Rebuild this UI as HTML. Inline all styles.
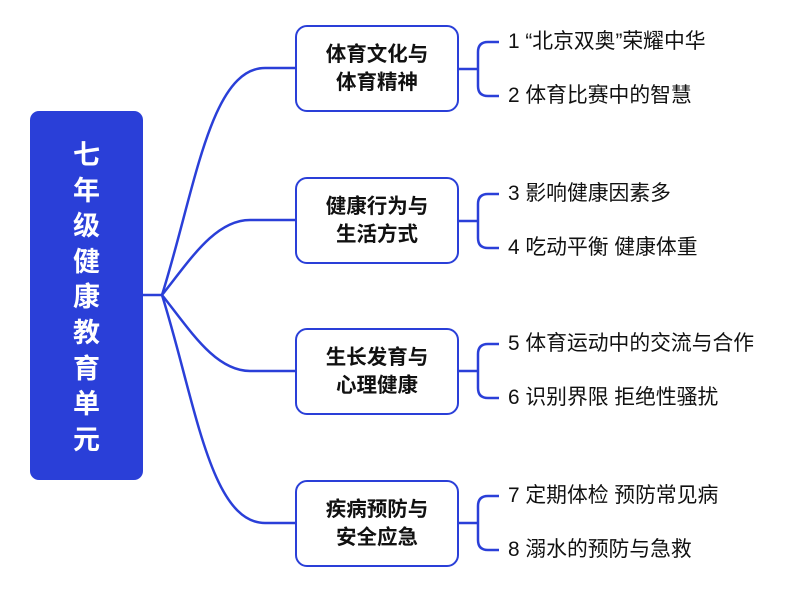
<!DOCTYPE html>
<html><head><meta charset="utf-8"><style>
body{margin:0;width:794px;height:593px;background:#fff;overflow:hidden;position:relative;font-family:"Liberation Sans","Noto Sans CJK SC",sans-serif}
.root{position:absolute;left:30px;top:111px;width:113px;height:369px;background:#2a3fd8;border-radius:9px}
.rc{position:absolute;left:0;width:113px;text-align:center;color:#fff;font-weight:bold;font-size:27px;line-height:30px}
.box{position:absolute;left:295px;width:160px;height:83px;border:2.5px solid #2a3fd8;border-radius:12px;background:#fff;display:flex;align-items:center;justify-content:center;text-align:center;font-weight:bold;font-size:20.5px;line-height:28px;color:#111}
.it{position:absolute;left:508px;font-size:20.8px;color:#111;line-height:24px;white-space:nowrap}
</style></head><body>
<svg width="794" height="593" style="position:absolute;left:0;top:0" fill="none" stroke="#2a3fd8" stroke-width="2.5">
<path d="M143 295 L162 295"/>
<path d="M162 295 C195 190,210 68,265 68 L295 68"/>
<path d="M162 295 C190 260,215 220,250 220 L295 220"/>
<path d="M162 295 C190 330,215 371,250 371 L295 371"/>
<path d="M162 295 C195 400,210 523,265 523 L295 523"/>
<g id="b">
<path d="M459 69 L478 69 M499 42 L488 42 Q478 42 478 52 L478 86 Q478 96 488 96 L499 96"/>
</g>
<use href="#b" y="152"/><use href="#b" y="302"/><use href="#b" y="454"/>
</svg>
<div class="root">
<div class="rc" style="top:29px">七</div><div class="rc" style="top:65px">年</div><div class="rc" style="top:100px">级</div><div class="rc" style="top:136px">健</div><div class="rc" style="top:171px">康</div><div class="rc" style="top:207px">教</div><div class="rc" style="top:243px">育</div><div class="rc" style="top:278px">单</div><div class="rc" style="top:314px">元</div>
</div>
<div class="box" style="top:25px">体育文化与<br>体育精神</div>
<div class="box" style="top:177px">健康行为与<br>生活方式</div>
<div class="box" style="top:328px">生长发育与<br>心理健康</div>
<div class="box" style="top:480px">疾病预防与<br>安全应急</div>
<div class="it" style="top:30px">1 “北京双奥”荣耀中华</div>
<div class="it" style="top:84px">2 体育比赛中的智慧</div>
<div class="it" style="top:182px">3 影响健康因素多</div>
<div class="it" style="top:236px">4 吃动平衡 健康体重</div>
<div class="it" style="top:332px">5 体育运动中的交流与合作</div>
<div class="it" style="top:386px">6 识别界限 拒绝性骚扰</div>
<div class="it" style="top:484px">7 定期体检 预防常见病</div>
<div class="it" style="top:538px">8 溺水的预防与急救</div>
</body></html>
